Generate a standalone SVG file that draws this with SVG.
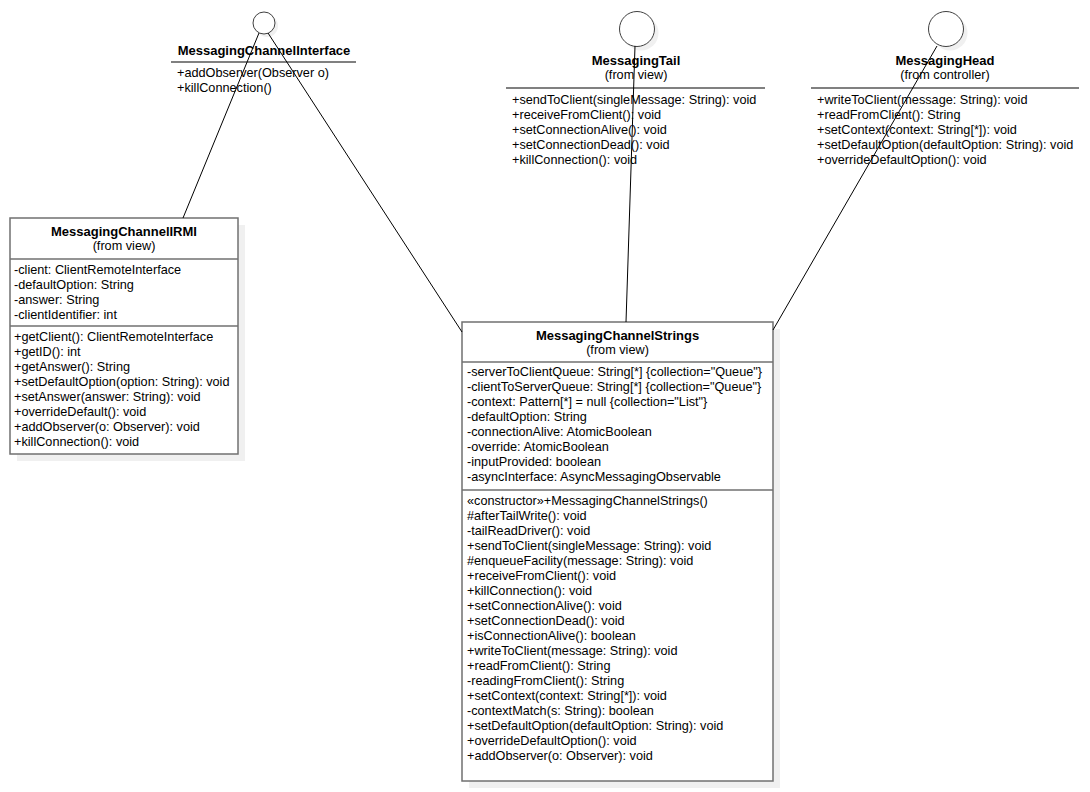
<svg xmlns="http://www.w3.org/2000/svg" width="1090" height="792" viewBox="0 0 1090 792">
<style>
text{font-family:"Liberation Sans",Arial,sans-serif;font-size:12.7px;fill:#000}
.n{font-weight:bold;text-anchor:middle;font-size:13px}
.s{text-anchor:middle}
.box{fill:#fff;stroke:#707070;stroke-width:1.5}
.sh{fill:#f0f0f0}
.div{stroke:#707070;stroke-width:1.5}
.lp{stroke:#808080;stroke-width:2}
.cir{fill:#fff;stroke:#404040;stroke-width:1}
.con{stroke:#000;stroke-width:1;fill:none}
</style>
<rect width="1090" height="792" fill="#fff"/>
<g id="MessagingChannelInterface">
<circle class="sh" cx="267" cy="26" r="11"/>
<circle class="cir" cx="264" cy="23" r="11"/>
<text class="n" x="264" y="55">MessagingChannelInterface</text>
<line class="lp" x1="171" y1="62" x2="356" y2="62"/>
<text x="177" y="77">+addObserver(Observer o)</text>
<text x="177" y="92">+killConnection()</text>
</g>
<g id="MessagingTail">
<circle class="sh" cx="641" cy="33" r="17.5"/>
<circle class="cir" cx="637" cy="29" r="17.5"/>
<text class="n" x="636" y="65">MessagingTail</text>
<text class="s" x="636" y="79">(from view)</text>
<line class="lp" x1="506" y1="88" x2="765" y2="88"/>
<text x="512" y="104">+sendToClient(singleMessage: String): void</text>
<text x="512" y="119">+receiveFromClient(): void</text>
<text x="512" y="134">+setConnectionAlive(): void</text>
<text x="512" y="149">+setConnectionDead(): void</text>
<text x="512" y="164">+killConnection(): void</text>
</g>
<g id="MessagingHead">
<circle class="sh" cx="950" cy="33" r="17.5"/>
<circle class="cir" cx="946" cy="29" r="17.5"/>
<text class="n" x="945" y="65">MessagingHead</text>
<text class="s" x="945" y="79">(from controller)</text>
<line class="lp" x1="811" y1="88" x2="1079" y2="88"/>
<text x="817" y="104">+writeToClient(message: String): void</text>
<text x="817" y="119">+readFromClient(): String</text>
<text x="817" y="134">+setContext(context: String[*]): void</text>
<text x="817" y="149">+setDefaultOption(defaultOption: String): void</text>
<text x="817" y="164">+overrideDefaultOption(): void</text>
</g>
<g id="MessagingChannelIRMI">
<rect class="sh" x="17" y="225" width="228" height="236"/>
<rect class="box" x="10" y="218" width="228" height="236"/>
<text class="n" x="124" y="236">MessagingChannelIRMI</text>
<text class="s" x="124" y="250">(from view)</text>
<line class="div" x1="10" y1="259" x2="238" y2="259"/>
<text x="14" y="274">-client: ClientRemoteInterface</text>
<text x="14" y="289">-defaultOption: String</text>
<text x="14" y="304">-answer: String</text>
<text x="14" y="319">-clientIdentifier: int</text>
<line class="div" x1="10" y1="326" x2="238" y2="326"/>
<text x="14" y="341">+getClient(): ClientRemoteInterface</text>
<text x="14" y="356">+getID(): int</text>
<text x="14" y="371">+getAnswer(): String</text>
<text x="14" y="386">+setDefaultOption(option: String): void</text>
<text x="14" y="401">+setAnswer(answer: String): void</text>
<text x="14" y="416">+overrideDefault(): void</text>
<text x="14" y="431">+addObserver(o: Observer): void</text>
<text x="14" y="446">+killConnection(): void</text>
</g>
<g id="MessagingChannelStrings">
<rect class="sh" x="469" y="329" width="311" height="459"/>
<rect class="box" x="462" y="322" width="311" height="459"/>
<text class="n" x="617.5" y="340">MessagingChannelStrings</text>
<text class="s" x="617.5" y="354">(from view)</text>
<line class="div" x1="462" y1="362" x2="773" y2="362"/>
<text x="467" y="376">-serverToClientQueue: String[*] {collection="Queue"}</text>
<text x="467" y="391">-clientToServerQueue: String[*] {collection="Queue"}</text>
<text x="467" y="406">-context: Pattern[*] = null {collection="List"}</text>
<text x="467" y="421">-defaultOption: String</text>
<text x="467" y="436">-connectionAlive: AtomicBoolean</text>
<text x="467" y="451">-override: AtomicBoolean</text>
<text x="467" y="466">-inputProvided: boolean</text>
<text x="467" y="481">-asyncInterface: AsyncMessagingObservable</text>
<line class="div" x1="462" y1="490" x2="773" y2="490"/>
<text x="467" y="505">«constructor»+MessagingChannelStrings()</text>
<text x="467" y="520">#afterTailWrite(): void</text>
<text x="467" y="535">-tailReadDriver(): void</text>
<text x="467" y="550">+sendToClient(singleMessage: String): void</text>
<text x="467" y="565">#enqueueFacility(message: String): void</text>
<text x="467" y="580">+receiveFromClient(): void</text>
<text x="467" y="595">+killConnection(): void</text>
<text x="467" y="610">+setConnectionAlive(): void</text>
<text x="467" y="625">+setConnectionDead(): void</text>
<text x="467" y="640">+isConnectionAlive(): boolean</text>
<text x="467" y="655">+writeToClient(message: String): void</text>
<text x="467" y="670">+readFromClient(): String</text>
<text x="467" y="685">-readingFromClient(): String</text>
<text x="467" y="700">+setContext(context: String[*]): void</text>
<text x="467" y="715">-contextMatch(s: String): boolean</text>
<text x="467" y="730">+setDefaultOption(defaultOption: String): void</text>
<text x="467" y="745">+overrideDefaultOption(): void</text>
<text x="467" y="760">+addObserver(o: Observer): void</text>
</g>
<g id="connectors">
<line class="con" x1="259" y1="33" x2="183" y2="218"/>
<line class="con" x1="268" y1="33" x2="462" y2="332"/>
<line class="con" x1="635" y1="46" x2="626" y2="322"/>
<line class="con" x1="937" y1="46" x2="773" y2="330"/>
</g>
</svg>
